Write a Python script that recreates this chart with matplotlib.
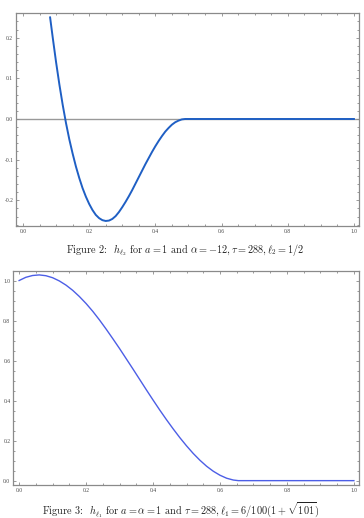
import matplotlib
matplotlib.use('Agg')
import matplotlib.pyplot as plt
from matplotlib.ticker import MultipleLocator

plt.rcParams['mathtext.fontset'] = 'cm'
plt.rcParams['font.family'] = 'Liberation Serif'
plt.rcParams['axes.unicode_minus'] = False

# Figure 2 curve: h_l2
x2 = [0.082, 0.09, 0.10, 0.11, 0.12, 0.13, 0.14, 0.15, 0.16, 0.17, 0.18, 0.19, 0.20,
      0.21, 0.22, 0.23, 0.24, 0.25, 0.26, 0.27, 0.28, 0.29, 0.30, 0.31, 0.32, 0.33,
      0.34, 0.35, 0.36, 0.37, 0.38, 0.39, 0.40, 0.41, 0.42, 0.43, 0.44, 0.45, 0.46,
      0.47, 0.48, 0.49, 0.50, 1.0]
y2 = [0.250, 0.200, 0.140, 0.085, 0.035, -0.010, -0.050, -0.085, -0.117, -0.145,
      -0.170, -0.191, -0.209, -0.224, -0.236, -0.244, -0.249, -0.251, -0.250, -0.246,
      -0.239, -0.229, -0.217, -0.204, -0.190, -0.175, -0.159, -0.143, -0.127, -0.111,
      -0.096, -0.081, -0.067, -0.054, -0.042, -0.031, -0.022, -0.014, -0.008, -0.004,
      -0.001, 0.0, 0.0, 0.0]

# Figure 3 curve: h_l1
x3 = [0.0, 0.02, 0.04, 0.06, 0.08, 0.10, 0.12, 0.14, 0.16, 0.18, 0.20, 0.22, 0.24,
      0.26, 0.28, 0.30, 0.32, 0.34, 0.36, 0.38, 0.40, 0.42, 0.44, 0.46, 0.48, 0.50,
      0.52, 0.54, 0.56, 0.58, 0.60, 0.62, 0.64, 0.655, 1.0]
y3 = [1.000, 1.016, 1.025, 1.028, 1.024, 1.014, 0.998, 0.977, 0.951, 0.920, 0.885,
      0.846, 0.803, 0.757, 0.709, 0.660, 0.609, 0.558, 0.506, 0.454, 0.403, 0.353,
      0.305, 0.259, 0.215, 0.174, 0.136, 0.102, 0.072, 0.047, 0.027, 0.012, 0.003,
      0.0, 0.0]

caption2 = r'Figure 2:  $h_{\ell_2}$ for $a = 1$ and $\alpha = -12, \tau = 288, \ell_2 = 1/2$'
caption3 = r'Figure 3:  $h_{\ell_1}$ for $a = \alpha = 1$ and $\tau = 288, \ell_1 = 6/100(1 + \sqrt{101})$'

frame = '#8a8a8a'


def style(ax, ymaj, ymin):
    for s in ax.spines.values():
        s.set_color(frame)
        s.set_linewidth(0.9)
    ax.xaxis.set_major_locator(MultipleLocator(0.2))
    ax.xaxis.set_minor_locator(MultipleLocator(0.05))
    ax.yaxis.set_major_locator(MultipleLocator(ymaj))
    ax.yaxis.set_minor_locator(MultipleLocator(ymin))
    ax.tick_params(which='both', direction='in', top=True, right=True,
                   color=frame, width=0.6, labelsize=4, labelcolor='#444444', pad=2)
    ax.tick_params(which='major', length=2.5)
    ax.tick_params(which='minor', length=1.3)
    ax.xaxis.set_major_formatter(plt.FuncFormatter(lambda v, p: f'{v:.1f}'))
    ax.yaxis.set_major_formatter(plt.FuncFormatter(lambda v, p: f'{v:.1f}'))


fig = plt.figure(figsize=(3.64, 5.18), dpi=100)

ax1 = fig.add_axes([0.044, 0.564, 0.942, 0.411])
ax1.axhline(0, color='#999999', lw=1.0, zorder=1)
ax1.plot(x2, y2, color='#1f5fc4', lw=1.4, zorder=2)
ax1.set_xlim(-0.021, 1.015)
ax1.set_ylim(-0.263, 0.261)
style(ax1, 0.1, 0.02)

ax2 = fig.add_axes([0.036, 0.064, 0.95, 0.413])
ax2.plot(x3, y3, color='#4c5ee6', lw=1.0)
ax2.set_xlim(-0.018, 1.015)
ax2.set_ylim(-0.021, 1.048)
style(ax2, 0.2, 0.05)

fig.text(0.508, 1 - 253 / 518, caption2, ha='center', va='baseline', fontsize=7.4,
         color='#222222', family='cmr10')
fig.text(0.497, 1 - 514 / 518, caption3, ha='center', va='baseline', fontsize=7.4,
         color='#222222', family='cmr10')

fig.savefig('out.png', dpi=100)
